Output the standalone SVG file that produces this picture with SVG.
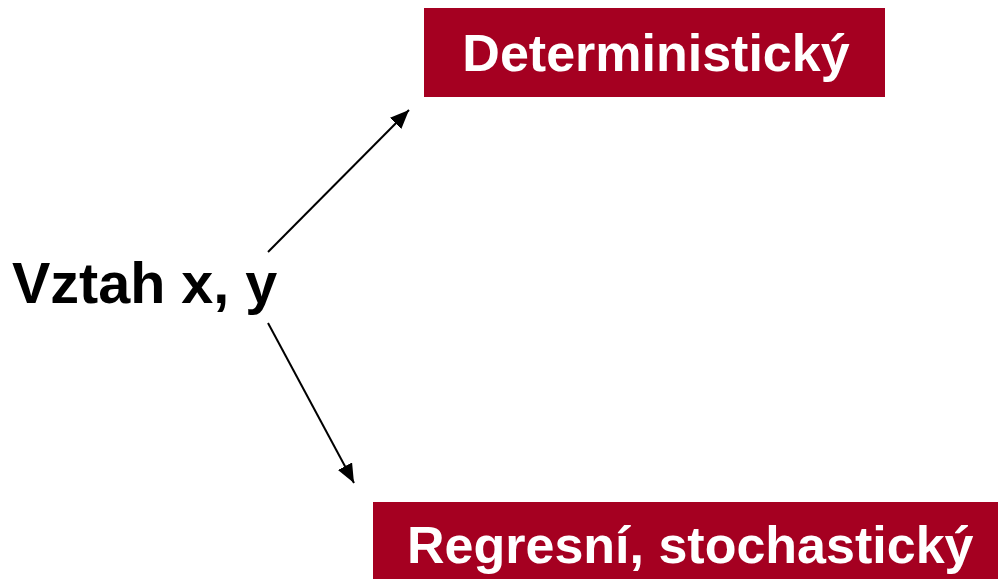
<svg xmlns="http://www.w3.org/2000/svg" width="998" height="579" viewBox="0 0 998 579">
<style>
.box{fill:#A50021}
.lbl{font-family:"Liberation Sans",Arial,sans-serif;font-weight:bold;font-size:52px;fill:#fff}
.main{font-family:"Liberation Sans",Arial,sans-serif;font-weight:bold;font-size:57.5px;fill:#000}
.conn{stroke:#000;stroke-width:2;fill:none;marker-end:url(#ah)}
</style>
<defs>
<marker id="ah" markerUnits="userSpaceOnUse" markerWidth="22" markerHeight="18" refX="19" refY="8" orient="auto">
<path d="M0,0 L19,8 L0,16 Z" fill="#000"/>
</marker>
</defs>
<rect width="998" height="579" fill="#fff"/>
<g id="source"><text class="main" x="12" y="303">Vztah x, y</text></g>
<g id="deterministic">
<rect class="box" x="424" y="8" width="461" height="89"/>
<text class="lbl" x="656" y="71" text-anchor="middle">Deterministický</text>
</g>
<g id="regression">
<rect class="box" x="373" y="502" width="625" height="77"/>
<text class="lbl" x="407" y="563">Regresní, stochastický</text>
</g>
<g id="connectors">
<line class="conn" x1="268" y1="252" x2="409" y2="110"/>
<line class="conn" x1="268" y1="323" x2="354" y2="483"/>
</g>
</svg>
